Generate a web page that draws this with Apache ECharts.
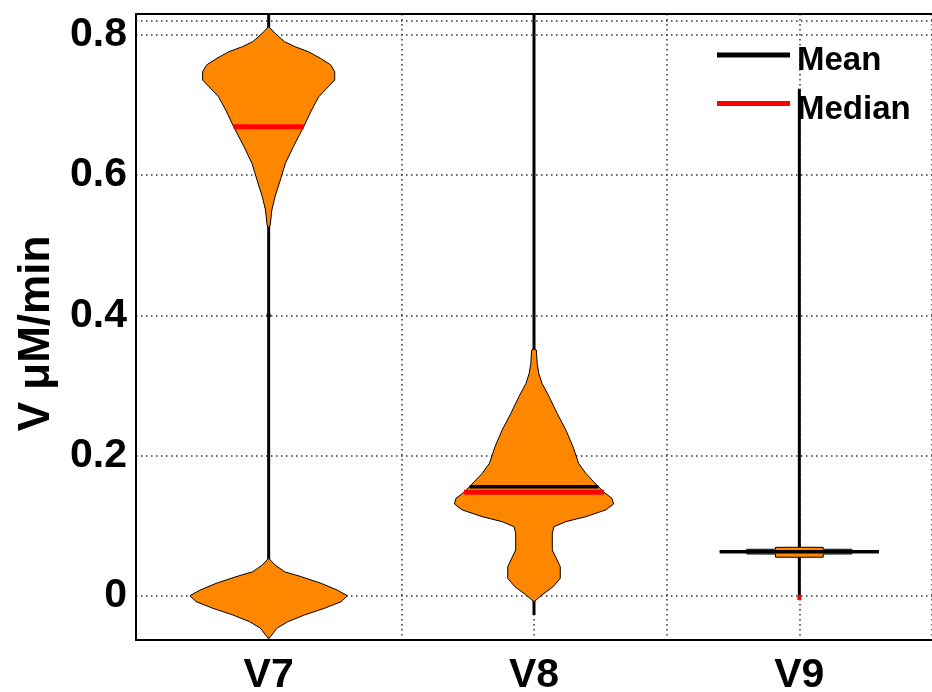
<!DOCTYPE html>
<html>
<head>
<meta charset="utf-8">
<script src="https://cdn.jsdelivr.net/npm/echarts@6/dist/echarts.min.js"></script>
<style>
  html, body { margin: 0; padding: 0; background: #ffffff; }
  #chart { width: 932px; height: 692px; }
</style>
</head>
<body>
<div id="chart"></div>
<script>
// Groups along the x axis
const categories = ['V7', 'V8', 'V9'];
const yTicks = [0, 0.2, 0.4, 0.6, 0.8];

// Kernel density profiles: sample values and relative density (1 = widest)
const v7Values = [0.8117, 0.8023, 0.7903, 0.7832, 0.7760, 0.7666, 0.7571, 0.7475, 0.7357, 0.7261,
                  0.7118, 0.6929, 0.6690, 0.6405, 0.6168, 0.5906, 0.5692, 0.5502, 0.5288, 0.5250,
                  0.0534, 0.0438, 0.0342, 0.0271, 0.0176, 0.0081, 0.0, -0.0086, -0.0180, -0.0275,
                  -0.0371, -0.0466, -0.0561, -0.0608];
const v7Density = [0, 0.08, 0.20, 0.33, 0.50, 0.65, 0.78, 0.83, 0.83, 0.75,
                   0.63, 0.54, 0.44, 0.31, 0.21, 0.14, 0.08, 0.04, 0.02, 0,
                   0, 0.08, 0.20, 0.41, 0.66, 0.86, 0.99, 0.91, 0.70, 0.45,
                   0.24, 0.10, 0.04, 0];

const v8Values = [0.3520, 0.3505, 0.3315, 0.3173, 0.3030, 0.2839, 0.2602, 0.2364, 0.2126, 0.1889,
                  0.1746, 0.1626, 0.1555, 0.1475, 0.1389, 0.1308, 0.1223, 0.1127, 0.1056, 0.0984,
                  0.0890, 0.0652, 0.0414, 0.0248, 0.0128, 0.0010, -0.0086];
const v8Density = [0, 0.03, 0.04, 0.06, 0.10, 0.19, 0.29, 0.40, 0.49, 0.56,
                   0.65, 0.75, 0.81, 0.88, 0.98, 1.00, 0.90, 0.65, 0.40, 0.25,
                   0.23, 0.23, 0.33, 0.33, 0.24, 0.10, 0];

const v9Values = [0.0691, 0.0690, 0.0663, 0.0662, 0.0629, 0.0628, 0.0627, 0.0595, 0.0594, 0.0549, 0.0548];
const v9Density = [0, 0.30, 0.30, 0.66, 0.66, 1.00, 0.66, 0.66, 0.30, 0.30, 0];

// Summary statistics per group
const means = [0.40, 0.1555, 0.0628];
const medians = [0.669, 0.1475, -0.0025];
const rangeMin = [-0.0608, -0.0275, -0.0025];
const rangeMax = [0.90, 0.90, 0.723];

const profiles = [
  { values: v7Values, density: v7Density },
  { values: v8Values, density: v8Density },
  { values: v9Values, density: v9Density }
];

const HALF_WIDTH = 0.3;      // half-width of a violin at density 1, in x units
const MIN_HALF = 0.0075;     // shortest half-length of a summary line
const FONT = '"Liberation Sans", Arial, Helvetica, sans-serif';
const ORANGE = '#ff8700';

function densityAt(i, y) {
  const v = profiles[i].values, d = profiles[i].density;
  let best = 0;
  for (let k = 0; k < v.length - 1; k++) {
    const a = v[k], b = v[k + 1];
    const lo = Math.min(a, b), hi = Math.max(a, b);
    if (y >= lo && y <= hi) {
      const t = hi === lo ? 0 : (y - a) / (b - a);
      best = Math.max(best, d[k] + t * (d[k + 1] - d[k]));
    }
  }
  return best;
}

function renderViolin(params, api) {
  const i = params.dataIndex;
  const x = api.value(0);
  const p = profiles[i];
  const right = [], left = [];
  for (let k = 0; k < p.values.length; k++) {
    right.push(api.coord([x + p.density[k] * HALF_WIDTH, p.values[k]]));
    left.push(api.coord([x - p.density[k] * HALF_WIDTH, p.values[k]]));
  }
  const pts = right.concat(left.reverse());
  const top = api.coord([x, rangeMax[i]]);
  const bot = api.coord([x, rangeMin[i]]);
  return {
    type: 'group',
    children: [
      { type: 'line', shape: { x1: top[0], y1: top[1], x2: bot[0], y2: bot[1] },
        style: { stroke: '#000', lineWidth: 3 } },
      { type: 'polygon', shape: { points: pts },
        style: { fill: ORANGE, stroke: '#000', lineWidth: 1 } }
    ]
  };
}

function statRenderer(color, width) {
  return function (params, api) {
    const i = params.dataIndex;
    const x = api.value(0), y = api.value(1);
    const h = Math.max(densityAt(i, y) * HALF_WIDTH, MIN_HALF);
    const a = api.coord([x - h, y]);
    const b = api.coord([x + h, y]);
    return { type: 'line', shape: { x1: a[0], y1: a[1], x2: b[0], y2: b[1] },
             style: { stroke: color, lineWidth: width } };
  };
}

const xPos = categories.map((c, i) => i + 1);
const dotted = { color: '#333', width: 1.5, type: [1.5, 3.5] };

// legend swatch: a bar on the top edge of a taller box, so the label sits a little lower
const LEGEND_BAR = 'path://M0,0H73V5H0Z M0,17L73,17Z';

const chart = echarts.init(document.getElementById('chart'), null, { renderer: 'canvas' });
chart.setOption({
  animation: false,
  backgroundColor: '#ffffff',
  grid: { left: 136, right: 0, top: 14, bottom: 52, containLabel: false, outerBoundsMode: 'none' },
  legend: {
    left: 717, top: 43, orient: 'vertical', padding: 0, itemGap: 12.5,
    itemWidth: 73, itemHeight: 17, icon: LEGEND_BAR,
    data: ['Mean', 'Median'],
    textStyle: { fontFamily: FONT, fontWeight: 'bold', fontSize: 33, color: '#000',
                 lineHeight: 36, padding: [0, 0, 0, 2] }
  },
  xAxis: [{
    type: 'value', min: 0.5, max: 3.5, interval: 0.5, position: 'bottom',
    axisLine: { show: true, onZero: false, lineStyle: { color: '#000', width: 2 } },
    axisTick: { show: false },
    splitLine: { show: true, lineStyle: dotted },
    axisLabel: {
      margin: 15, fontFamily: FONT, fontWeight: 'bold', fontSize: 41, color: '#000',
      formatter: v => (Number.isInteger(v) && categories[v - 1]) ? categories[v - 1] : ''
    }
  }, {
    type: 'value', min: 0.5, max: 3.5, interval: 0.5, position: 'top',
    axisLine: { show: true, onZero: false, lineStyle: { color: '#000', width: 2 } },
    axisTick: { show: false }, axisLabel: { show: false }, splitLine: { show: false }
  }],
  yAxis: {
    type: 'value', min: -0.0632, max: 0.8298,
    name: 'V \u03bcM/min', nameLocation: 'middle', nameRotate: 90, nameGap: 76,
    nameTextStyle: { fontFamily: FONT, fontWeight: 'bold', fontSize: 44, color: '#000',
                     padding: [0, 13, 0, 0] },
    axisLine: { show: true, onZero: false, lineStyle: { color: '#000', width: 2 } },
    axisTick: { show: false, customValues: yTicks },
    splitLine: { show: true, lineStyle: dotted },
    axisLabel: {
      customValues: yTicks, margin: 9,
      fontFamily: FONT, fontWeight: 'bold', fontSize: 41, color: '#000',
      formatter: v => String(+v.toFixed(1))
    }
  },
  series: [
    {
      type: 'line', data: [], silent: true,
      markLine: { silent: true, symbol: 'none', label: { show: false },
                  lineStyle: dotted, data: [{ yAxis: 0.8241 }] }
    },
    {
      type: 'custom', name: 'Violin', clip: true, silent: true,
      renderItem: renderViolin,
      data: xPos.map(x => [x])
    },
    {
      type: 'custom', name: 'Mean', clip: true, silent: true,
      itemStyle: { color: '#000000' },
      renderItem: statRenderer('#000000', 3.5),
      data: xPos.map((x, i) => [x, means[i]])
    },
    {
      type: 'custom', name: 'Median', clip: true, silent: true,
      itemStyle: { color: '#ff0000' },
      renderItem: statRenderer('#ff0000', 5),
      data: xPos.map((x, i) => [x, medians[i]])
    }
  ]
});
</script>
</body>
</html>
